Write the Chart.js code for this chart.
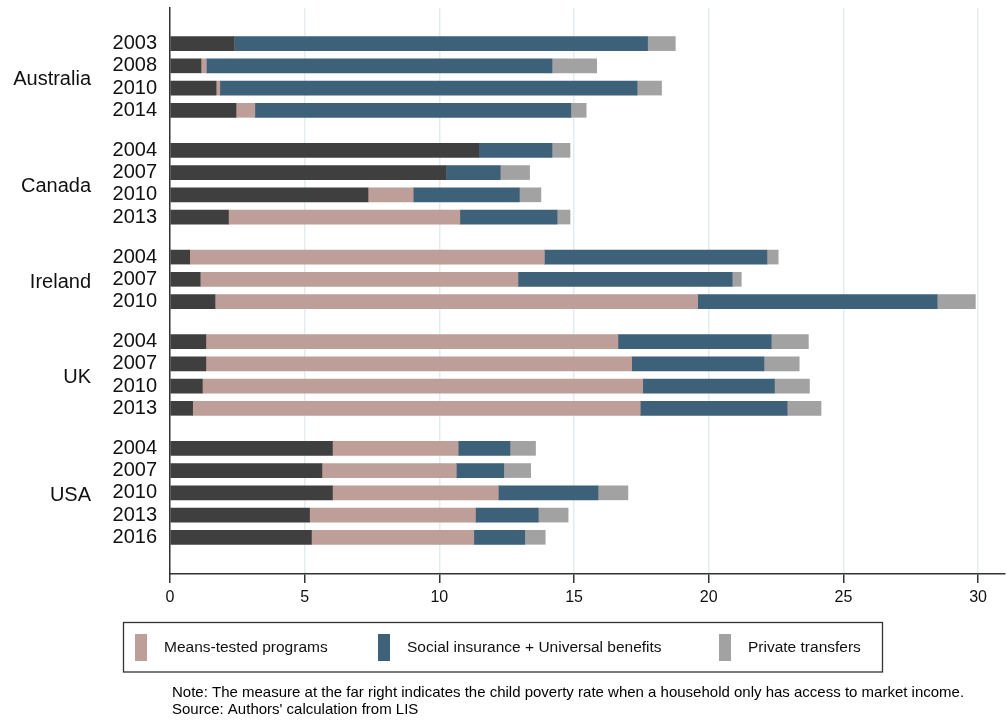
<!DOCTYPE html>
<html>
<head>
<meta charset="utf-8">
<script src="https://cdn.jsdelivr.net/npm/chart.js@4.4.1/dist/chart.umd.min.js"></script>
<style>
  html, body { margin: 0; padding: 0; background: #fff; }
  #wrap { width: 1007px; height: 721px; position: relative; }
</style>
</head>
<body>
<div id="wrap"><canvas id="povChart"></canvas></div>
<script>
// Data kemiskinan anak per negara / tahun
const countries = ['Australia', 'Canada', 'Ireland', 'UK', 'USA'];
const groupSizes = [4, 4, 3, 4, 5];
const years = ['2003', '2008', '2010', '2014',
               '2004', '2007', '2010', '2013',
               '2004', '2007', '2010',
               '2004', '2007', '2010', '2013',
               '2004', '2007', '2010', '2013', '2016'];

const afterTransfers = [2.38, 1.15, 1.71, 2.45, 11.46, 10.24, 7.35, 2.17, 0.73, 1.12, 1.67,
                        1.33, 1.33, 1.20, 0.84, 6.03, 5.64, 6.03, 5.18, 5.25];
const meansTested = [0, 0.20, 0.14, 0.70, 0, 0, 1.68, 8.59, 13.17, 11.80, 17.92,
                     15.30, 15.81, 16.35, 16.62, 4.67, 4.99, 6.16, 6.16, 6.03];
const socialUniversal = [15.35, 12.83, 15.49, 11.73, 2.72, 2.02, 3.94, 3.61, 8.26, 7.95, 8.89,
                         5.69, 4.91, 4.89, 5.45, 1.92, 1.76, 3.70, 2.33, 1.89];
const privateTransfers = [1.03, 1.66, 0.91, 0.57, 0.67, 1.09, 0.80, 0.48, 0.42, 0.34, 1.42,
                          1.38, 1.31, 1.30, 1.26, 0.95, 1.00, 1.11, 1.11, 0.76];

const xTicks = [0, 5, 10, 15, 20, 25, 30];
const groupGap = 0.8;

// posisi baris (indeks baris + jarak antar kelompok negara)
const rowPos = [];
const rowGroup = [];
groupSizes.forEach((n, g) => {
    for (let i = 0; i < n; i++) {
        rowPos.push(rowPos.length + g * groupGap);
        rowGroup.push(g);
    }
});

const toPoints = (arr) => arr.map((v, i) => ({ x: v, y: rowPos[i] }));

const FONT = "'Liberation Sans', Arial, Helvetica, sans-serif";

// label negara di sebelah kiri tahun
const countryLabels = {
    id: 'countryLabels',
    afterDraw(chart) {
        const ctx = chart.ctx;
        const yScale = chart.scales.y;
        ctx.save();
        ctx.font = '20px ' + FONT;
        ctx.fillStyle = '#111';
        ctx.textAlign = 'right';
        ctx.textBaseline = 'middle';
        countries.forEach((name, g) => {
            const ps = rowPos.filter((p, i) => rowGroup[i] === g);
            const mid = (ps[0] + ps[ps.length - 1]) / 2;
            ctx.fillText(name, 91, yScale.getPixelForValue(mid) + 3);
        });
        ctx.restore();
    }
};

// legenda berbingkai + catatan sumber
const legendBox = {
    id: 'legendBox',
    afterDraw(chart) {
        const ctx = chart.ctx;
        ctx.save();
        ctx.strokeStyle = '#333';
        ctx.lineWidth = 1.3;
        ctx.strokeRect(123.5, 622.5, 759, 49.5);

        const swatchX = [135, 378, 719];
        ctx.font = '15.5px ' + FONT;
        ctx.textBaseline = 'middle';
        chart.data.datasets.slice(1).forEach((ds, i) => {
            ctx.fillStyle = ds.backgroundColor;
            ctx.fillRect(swatchX[i], 634, 12, 27);
            ctx.fillStyle = '#111';
            ctx.fillText(ds.label, swatchX[i] + 29, 648);
        });

        ctx.font = '15px ' + FONT;
        ctx.fillStyle = '#000';
        ctx.fillText('Note: The measure at the far right indicates the child poverty rate when a household only has access to market income.', 172, 693);
        ctx.fillText("Source: Authors' calculation from LIS", 172, 710);
        ctx.restore();
    }
};

const ctx = document.getElementById('povChart').getContext('2d');
const povChart = new Chart(ctx, {
    type: 'bar',
    data: {
        datasets: [
            { label: 'Market income poverty after transfers', data: toPoints(afterTransfers), backgroundColor: '#3f3f3f' },
            { label: 'Means-tested programs', data: toPoints(meansTested), backgroundColor: '#be9e98' },
            { label: 'Social insurance + Universal benefits', data: toPoints(socialUniversal), backgroundColor: '#3e617a' },
            { label: 'Private transfers', data: toPoints(privateTransfers), backgroundColor: '#a2a2a2' }
        ]
    },
    options: {
        indexAxis: 'y',
        responsive: true,
        maintainAspectRatio: false,
        animation: false,
        layout: { padding: { top: 8, right: 2, left: 0, bottom: 0 } },
        datasets: { bar: { barThickness: 14, borderWidth: 0 } },
        plugins: {
            legend: { display: false },
            tooltip: { enabled: false }
        },
        scales: {
            x: {
                type: 'linear',
                stacked: true,
                min: 0,
                max: 31,
                afterFit: (axis) => { axis.height = 147; },
                afterBuildTicks: (axis) => { axis.ticks = xTicks.map(v => ({ value: v })); },
                grid: {
                    color: '#e3ecef',
                    lineWidth: 1.5,
                    tickColor: '#333',
                    tickLength: 9,
                    tickWidth: 1.5
                },
                border: { color: '#333', width: 1.5 },
                ticks: {
                    font: { family: FONT, size: 16 },
                    color: '#111',
                    padding: 5,
                    maxRotation: 0
                }
            },
            y: {
                type: 'linear',
                stacked: true,
                reverse: true,
                offset: false,
                min: -1.6,
                max: 23.85,
                afterFit: (axis) => {
                    axis.width = 170;
                    axis.paddingTop = 0;
                    axis.paddingBottom = 0;
                },
                afterBuildTicks: (axis) => { axis.ticks = rowPos.map(v => ({ value: v })); },
                grid: { drawOnChartArea: false, drawTicks: false, offset: false },
                border: { color: '#333', width: 1.5 },
                ticks: {
                    autoSkip: false,
                    font: { family: FONT, size: 20 },
                    color: '#111',
                    padding: 13,
                    callback: (value) => {
                        const i = rowPos.findIndex(p => Math.abs(p - value) < 1e-6);
                        return i >= 0 ? years[i] : '';
                    }
                }
            }
        }
    },
    plugins: [countryLabels, legendBox]
});
</script>
</body>
</html>
